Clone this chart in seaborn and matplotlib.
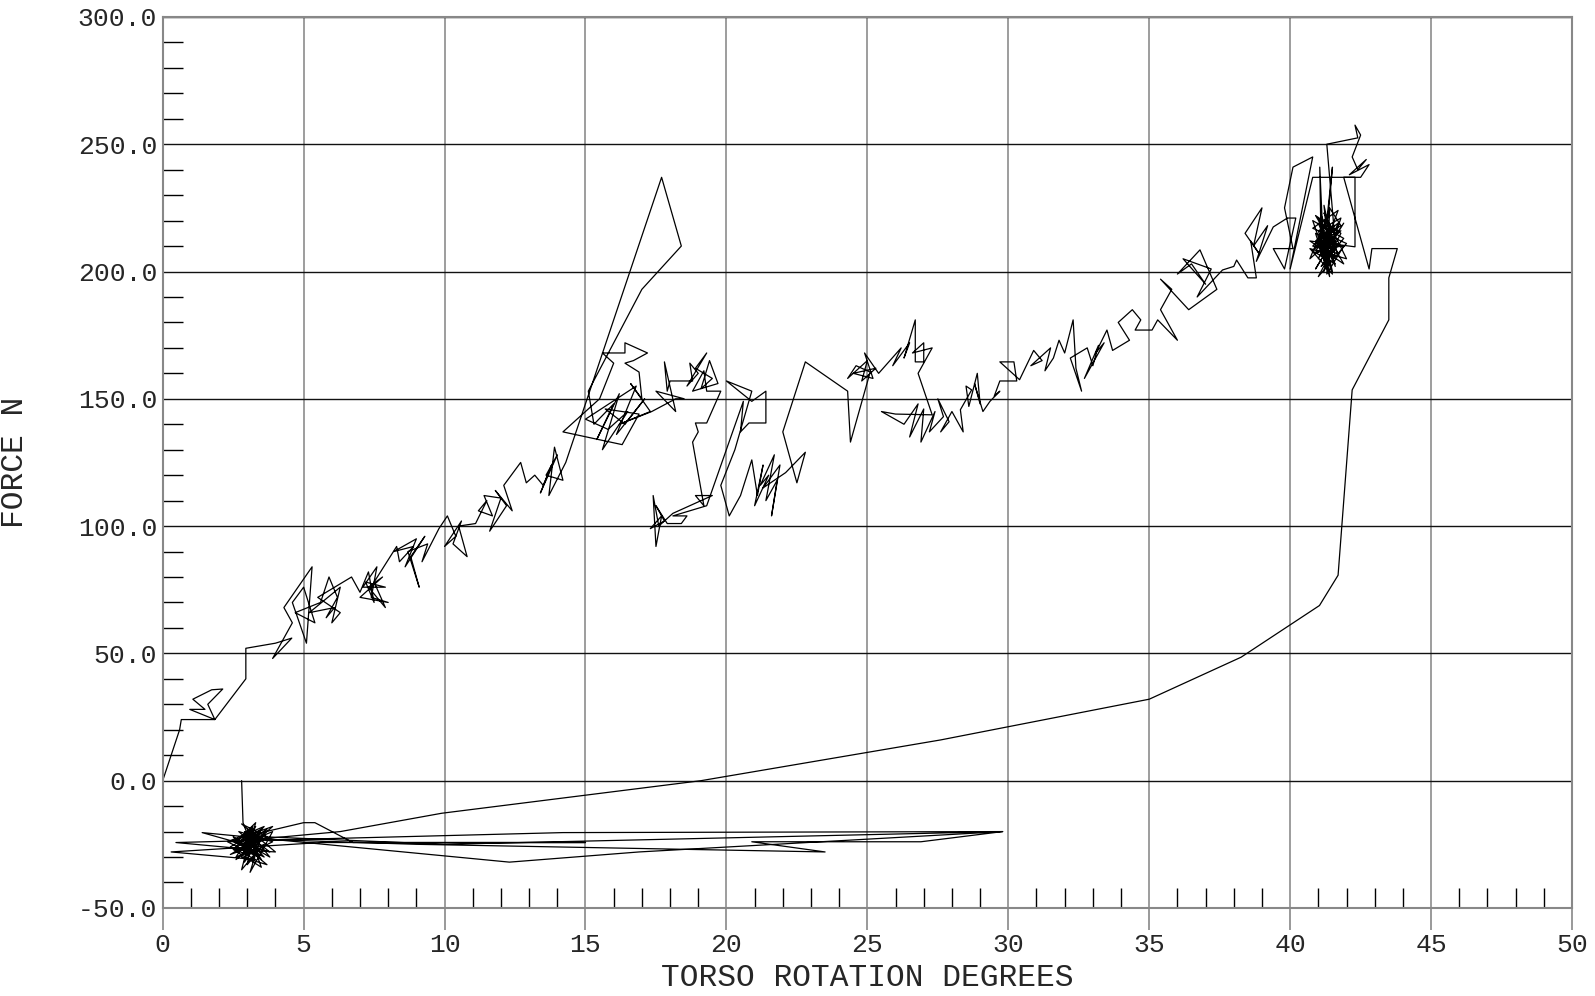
import matplotlib
matplotlib.use('Agg')
import matplotlib.pyplot as plt
from matplotlib.ticker import MultipleLocator
import numpy as np
import pandas as pd
import seaborn as sns

# torso rotation (deg) / force (N) in order
start_x = [0, 0.6, 0.66, 1.85, 0.96, 1.5, 1.07, 1.74, 2.13, 1.6, 1.85, 2.95, 2.95, 4.0, 4.58, 3.9]
start_y = [0, 20, 24, 24, 28, 28, 32, 35.7, 36, 30, 24, 40, 52, 54, 56, 48]

low_x = [4.6, 4.3, 5.3, 5.1, 4.6, 5.0, 5.4, 4.7, 5.6, 5.9, 6.2, 5.8, 6.1, 5.2, 6.3, 6.0, 6.3, 5.5,
         6.4, 6.7, 7.0, 7.3, 7.5, 7.2, 7.9, 7.1, 7.6, 7.4, 8.0, 7.0, 7.8, 7.3, 7.9, 7.5, 8.3]
low_y = [62, 68, 84, 54, 70, 76, 62, 66, 70, 80, 72, 64, 68, 66, 76, 62, 66, 72,
         78, 80, 74, 82, 70, 78, 76, 76, 84, 72, 70, 72, 80, 76, 68, 78, 92]

mid_x = [8.4, 8.9, 8.2, 9.0, 8.6, 9.3, 8.8, 9.1, 8.7, 9.4, 9.2, 9.8, 10.1, 10.4, 10.0, 10.6, 10.3,
         10.8, 10.5, 11.1, 11.5, 11.2, 11.7, 11.4, 12.0, 11.6, 12.2, 11.8, 12.4, 12.1, 12.7, 12.9,
         13.2, 13.5, 13.8, 13.4, 14.0, 13.6, 14.2, 13.9, 13.7, 14.3]
mid_y = [86, 92, 90, 95, 84, 96, 88, 76, 90, 93, 86, 99, 104, 96, 92, 102, 93,
         88, 100, 101, 110, 106, 104, 112, 111, 98, 108, 114, 106, 116, 125, 117,
         120, 116, 124, 113, 128, 120, 118, 131, 112, 125]

spike_x = [17.7, 18.4, 17.0, 15.1]
spike_y = [237, 210, 193, 153]

c15_x = [15.3, 16.0, 15.4, 16.2, 15.6, 16.5, 15.8, 15.0, 16.8, 16.1, 17.1, 16.4, 15.7, 16.9, 16.3,
         14.2, 15.5, 16.0, 15.6, 16.4, 16.4, 17.2, 16.7, 16.4, 16.9, 17.0, 16.6, 17.3, 16.2, 17.35,
         18.2, 18.5, 17.5, 18.2]
c15_y = [140, 148, 134, 152, 130, 145, 138, 142, 155, 136, 150, 140, 146, 144, 132,
         137, 150, 164, 168, 168, 172, 168, 165, 164, 160.5, 150, 156, 145, 140, 145,
         150, 150, 153, 145]

c19_x = [17.8, 17.9, 18.0, 18.8, 18.7, 19.0, 18.6, 19.3, 18.9, 19.5, 19.1, 19.4, 19.7, 18.8, 19.2,
         19.3, 19.8, 19.3, 18.9, 19.0, 18.8, 19.2, 18.9, 19.5]
c19_y = [164.5, 153, 157, 157, 164, 160, 155, 168, 162, 158, 154, 165, 156, 153, 161,
         153, 153, 140.5, 140.5, 137, 133, 108, 112, 112]

c17_x = [18.1, 17.6, 17.4, 17.5, 17.7, 17.3, 17.8, 17.5, 17.9, 18.4, 18.6, 18.1, 19.3]
c17_y = [105, 100, 112, 92, 104, 99, 102, 108, 101, 101, 104, 104, 108]

c21_x = [20.6, 20.5, 20.8, 21.4, 21.4, 20.9, 20.0, 20.9, 20.3, 19.8, 20.1, 20.5, 20.9, 21.1, 21.3,
         21.0, 21.5, 21.2, 21.7, 21.4, 21.8, 21.6, 21.9, 21.3, 22.1, 22.8, 22.5, 22.0, 22.8, 24.3,
         24.4, 25.1]
c21_y = [149, 137, 140.5, 140.5, 153, 149, 157, 153, 130, 116, 104, 112, 126, 112, 124,
         108, 120, 116, 128, 110, 118, 104, 124, 115, 121, 129, 117, 137, 164.5, 153,
         133, 160.5]

c25_x = [24.6, 24.3, 25.0, 24.8, 25.3, 24.5, 25.2, 24.9, 25.4, 25.8, 26.2, 25.9, 26.5, 26.3, 26.7,
         26.7, 27.0, 27.0, 26.6, 27.3, 26.8, 27.3]
c25_y = [163, 158, 165, 157, 162, 160, 158, 168, 160, 165, 170, 163, 172, 166, 181,
         164.5, 164.5, 172, 168, 170, 160, 143.7]

c27_x = [26.0, 25.5, 26.3, 26.8, 26.5, 27.0, 26.9, 27.4, 27.2, 27.7, 27.5, 27.9, 27.6, 28.0, 28.4,
         28.3, 28.7, 28.5, 28.6, 28.9, 29.0, 28.8, 29.1, 29.35, 29.7, 29.5, 29.7, 30.3]
c27_y = [144, 145, 140, 148, 135, 146, 133, 145, 137, 143, 150, 141, 137, 145, 137,
         145.7, 153.5, 155, 147, 160, 148, 156, 145, 149, 153, 151, 157, 157]

c31_x = [30.2, 29.7, 30.4, 30.9, 31.2, 30.8, 31.5, 31.3, 31.6, 31.8, 32.0, 32.3, 32.4, 32.6, 32.2,
         32.8, 33.0, 33.2, 32.7, 33.4, 33.1]
c31_y = [164.5, 164.5, 157.5, 169, 165, 163, 170, 161, 166, 173, 168, 181, 162, 153, 166,
         170, 163, 171, 158, 172, 168]

c35_x = [33.5, 33.7, 34.3, 33.9, 34.4, 34.7, 34.5, 35.1, 35.3, 36.0, 35.4, 35.8, 35.4, 36.4, 37.4,
         36.8, 36.0, 36.5, 37.0, 36.2, 37.2, 36.7, 37.6, 38.0, 38.1, 38.5, 38.8]
c35_y = [177, 169, 173, 180, 185, 181, 177, 177, 181, 173, 185, 193, 197, 185, 193,
         208.5, 199, 203, 195, 205, 201, 190, 200.6, 202, 204.5, 197.5, 197.5]

c39_x = [38.6, 38.9, 38.4, 39.0, 38.7, 39.2, 38.8, 39.4, 39.9, 40.2, 39.8, 39.4, 40.1, 39.8, 40.1,
         40.8, 40.0, 40.8, 42.3, 42.3]
c39_y = [212, 207, 215, 225, 210, 218, 204, 217.5, 221, 221, 201, 209, 209, 225, 241,
         245, 201, 237, 237, 209.7]

blob41_x = [40.7, 41.9, 40.9, 41.8, 41.0, 42.0, 40.8, 41.7, 41.1, 41.9, 40.9, 41.6, 41.2, 42.0, 40.7,
            41.5, 41.0, 41.8, 41.3, 40.8, 41.9, 41.1, 41.7, 40.9, 41.4, 41.8, 41.0, 41.6, 40.8, 41.5]
blob41_y = [212, 203, 222, 215, 198, 211, 217, 224, 206, 219, 201, 214, 223, 205, 209,
            199, 216, 221, 204, 220, 213, 202, 211, 207, 225, 218, 213, 203, 208, 216]

c41_x = [41.0, 41.5, 41.2, 41.6, 40.9, 41.4, 41.1, 41.7, 40.8, 41.3, 41.6, 41.0, 41.5, 41.2, 41.8,
         40.7, 41.4, 41.3, 41.9, 41.1, 41.05, 41.2, 41.5, 41.3, 41.0, 41.6, 41.2, 41.4, 40.9, 41.7,
         41.3, 41.1, 41.5, 41.2, 41.4, 41.0, 41.6, 41.3, 42.4, 42.3, 42.5, 42.2, 42.4, 42.7, 42.1,
         42.8, 42.5, 41.9, 42.8, 42.9, 43.8, 43.5, 43.5]
c41_y = [205, 218, 200, 212, 215, 198, 222, 207, 210, 215, 202, 219, 208, 213, 216,
         205, 224, 199, 210, 209, 241, 204, 241, 220, 211, 206, 226, 203, 212, 219,
         208, 216, 200, 214, 209, 221, 211, 250, 252.5, 257.5, 253.6, 245, 240, 244, 238,
         242, 237, 237, 201, 209, 209, 197.5, 181]

back_x = [42.2, 41.7, 41.04, 38.26, 35.0, 27.6, 19.1, 9.9, 6.3]
back_y = [153.5, 80.7, 68.8, 48.5, 32, 16, 0, -12.8, -20]

blob3_x = [2.4, 3.9, 2.6, 3.7, 2.8, 4.0, 2.5, 3.5, 3.0, 3.8, 2.7, 3.3, 2.9, 3.6, 2.4, 3.4, 3.1,
           3.9, 2.6, 3.2, 2.8, 3.7, 2.5, 3.0, 3.5, 2.9]
blob3_y = [-24, -18, -31, -22, -17, -28, -27, -34, -19, -30, -23, -16.5, -32, -21, -29, -25, -36,
           -20, -26, -18, -30, -33, -22, -26, -31, -20]

rest_x = [3.5, 2.9, 3.3, 2.6, 3.6, 3.0, 3.2, 2.5, 3.8, 3.1, 2.8, 3.4, 2.7, 3.9, 3.0, 3.5, 2.4, 3.3,
          0.3, 5.6, 15.0, 6.75, 5.4, 5.0, 2.9, 3.6, 2.7, 3.3, 3.1, 0.47, 14.2, 29.8, 26.9, 20.9,
          23.5, 9.0, 3.4, 2.6, 3.7, 3.2, 1.4, 12.3, 16.9, 29.8, 10.0, 3.5, 2.9, 3.6, 2.3, 3.2,
          3.0, 2.85, 2.8]
rest_y = [-22, -26, -18, -30, -25, -33, -20, -24, -28, -22, -35, -27, -20, -24, -29, -19, -26, -31,
          -28, -24.3, -24.3, -24.3, -16.5, -16.5, -22, -30, -25, -20, -27, -24.3, -20.4, -20, -24, -24,
          -28, -25, -23, -28, -19, -26, -20.4, -32, -28, -20, -25, -22, -27, -18, -24, -29,
          -21, -16.5, 0]

xs = (start_x + low_x + mid_x + spike_x + c15_x + c19_x + c17_x + c21_x + c25_x + c27_x
      + c31_x + c35_x + c39_x + blob41_x + c41_x + back_x + blob3_x + rest_x)
ys = (start_y + low_y + mid_y + spike_y + c15_y + c19_y + c17_y + c21_y + c25_y + c27_y
      + c31_y + c35_y + c39_y + blob41_y + c41_y + back_y + blob3_y + rest_y)
df = pd.DataFrame({'deg': xs, 'force': ys})

sns.set_style('white')
plt.rcParams['font.family'] = ['Liberation Mono', 'DejaVu Sans']

fig, ax = plt.subplots(figsize=(15.95, 9.96), dpi=100)
fig.subplots_adjust(left=0.102, right=0.9856, top=0.983, bottom=0.0884)

sns.lineplot(data=df, x='deg', y='force', sort=False, estimator=None,
             color='black', linewidth=0.9, ax=ax)

ax.set_xlim(0, 50)
ax.set_ylim(-50, 300)
ax.set_xticks(range(0, 51, 5))
yt = np.arange(-50, 301, 50)
ax.set_yticks(yt)
ax.set_yticklabels([f'{v:.1f}' for v in yt])
ax.xaxis.set_minor_locator(MultipleLocator(1))
ax.yaxis.set_minor_locator(MultipleLocator(10))

# seaborn's white style switches the ticks off, turn them back on
ax.tick_params(axis='x', which='both', bottom=True)
ax.tick_params(axis='y', which='both', left=True)
ax.tick_params(axis='x', which='major', direction='out', length=16, color='#888888',
               width=1.2, pad=2, labelsize=19)
ax.tick_params(axis='x', which='minor', direction='in', length=14.4, color='black', width=1)
ax.tick_params(axis='y', which='major', length=0, pad=4, labelsize=19)
ax.tick_params(axis='y', which='minor', direction='in', length=14.4, color='black', width=1)

ax.grid(axis='x', which='major', color='#8c8c8c', linewidth=1.2)
ax.grid(axis='y', which='major', color='#111111', linewidth=1.0)
ax.set_axisbelow(True)
for s in ax.spines.values():
    s.set_color('#888888')
    s.set_linewidth(1.5)

ax.set_xlabel('TORSO ROTATION DEGREES', fontsize=22.5)
ax.set_ylabel('FORCE N', fontsize=22.5)
ax.xaxis.set_label_coords(0.5, -0.062)
ax.yaxis.set_label_coords(-0.094, 0.5)

fig.savefig('out.png', dpi=100)
